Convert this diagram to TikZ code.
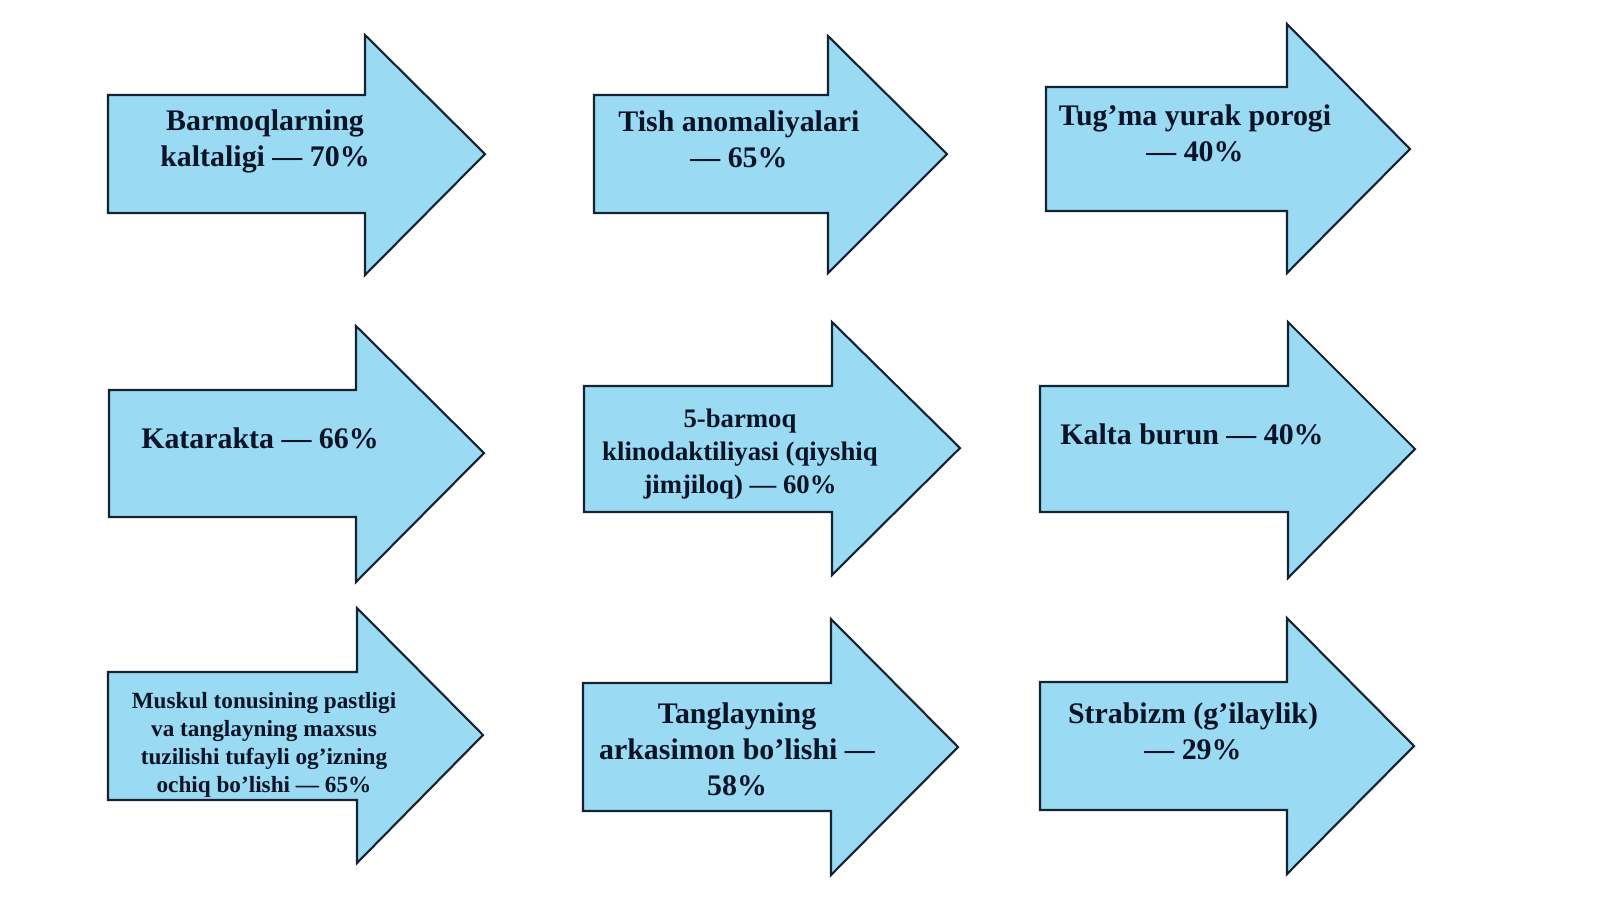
\documentclass[tikz,border=0pt]{standalone}
\usepackage{fontspec}
\setmainfont{Liberation Serif}
\definecolor{arrowfill}{RGB}{155,218,243}
\definecolor{arrowline}{RGB}{20,35,50}
\definecolor{labeltext}{RGB}{10,20,38}
\tikzset{
  arrowbox/.style={fill=arrowfill, draw=arrowline, line width=0.6pt, line join=miter},
  biglabel/.style={text=labeltext, align=center, font=\bfseries\fontsize{8.5}{10.2}\selectfont},
  midlabel/.style={text=labeltext, align=center, font=\bfseries\fontsize{7.6}{9.3}\selectfont},
  smalllabel/.style={text=labeltext, align=center, font=\bfseries\fontsize{6.6}{7.9}\selectfont}
}
\begin{document}
\begin{tikzpicture}[x=0.01cm, y=-0.01cm]
\useasboundingbox (0,0) rectangle (1600,899);
% top row
\draw[arrowbox] (108,95) -- (365,95) -- (365,35) -- (485,154) -- (365,275) -- (365,213) -- (108,213) -- cycle;
\draw[arrowbox] (594,95) -- (828,95) -- (828,36) -- (947,154) -- (828,273) -- (828,213) -- (594,213) -- cycle;
\draw[arrowbox] (1046,87) -- (1287,87) -- (1287,24) -- (1410,149) -- (1287,273) -- (1287,211) -- (1046,211) -- cycle;
% middle row
\draw[arrowbox] (109,390) -- (356,390) -- (356,326) -- (484,453) -- (356,582) -- (356,517) -- (109,517) -- cycle;
\draw[arrowbox] (584,386) -- (832,386) -- (832,322) -- (960,448) -- (832,575) -- (832,512) -- (584,512) -- cycle;
\draw[arrowbox] (1040,386) -- (1288,386) -- (1288,322) -- (1415,449) -- (1288,578) -- (1288,512) -- (1040,512) -- cycle;
% bottom row
\draw[arrowbox] (108,672) -- (357,672) -- (357,608) -- (483,735) -- (357,863) -- (357,800) -- (108,800) -- cycle;
\draw[arrowbox] (583,683) -- (831,683) -- (831,619) -- (958,747) -- (831,875) -- (831,811) -- (583,811) -- cycle;
\draw[arrowbox] (1040,682) -- (1287,682) -- (1287,618) -- (1414,746) -- (1287,874) -- (1287,810) -- (1040,810) -- cycle;
% labels
\node[biglabel] (fingers) at (265,141) {Barmoqlarning\\kaltaligi — 70\%};
\node[biglabel] (teeth) at (739,139) {Tish anomaliyalari\\— 65\%};
\node[biglabel] (heart) at (1195,133) {Tug’ma yurak porogi\\— 40\%};
\node[biglabel] (cataract) at (260,438) {Katarakta — 66\%};
\node[midlabel] (clino) at (740,454) {5-barmoq\\klinodaktiliyasi (qiyshiq\\jimjiloq) — 60\%};
\node[biglabel] (nose) at (1192,434) {Kalta burun — 40\%};
\node[smalllabel] (mouth) at (264,745) {Muskul tonusining pastligi\\va tanglayning maxsus\\tuzilishi tufayli og’izning\\ochiq bo’lishi — 65\%};
\node[biglabel] (palate) at (737,749) {Tanglayning\\arkasimon bo’lishi —\\58\%};
\node[biglabel] (squint) at (1193,731) {Strabizm (g’ilaylik)\\— 29\%};
\end{tikzpicture}
\end{document}
